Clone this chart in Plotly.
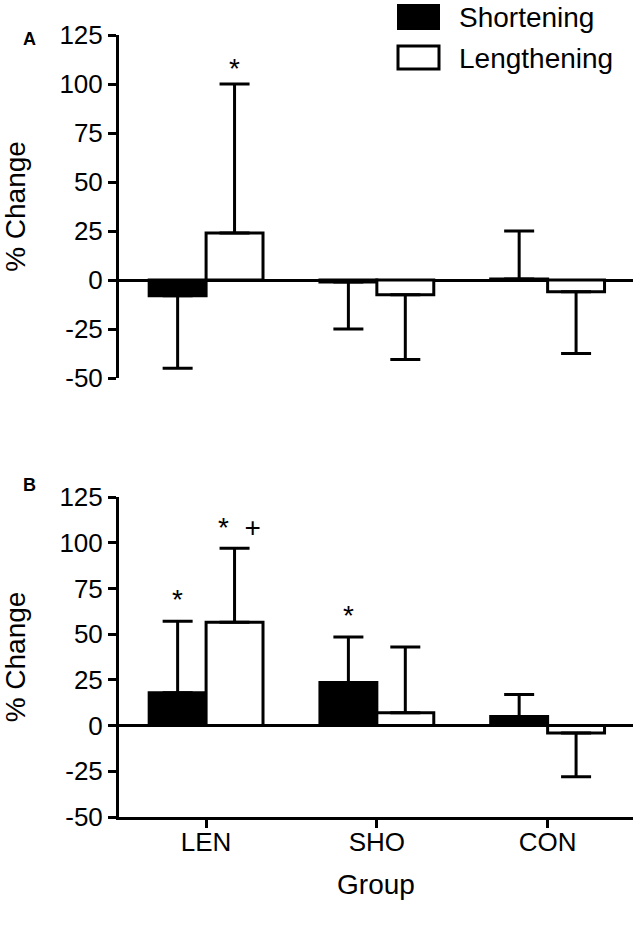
import plotly.graph_objects as go

# ---------------- data ----------------
groups = ["LEN", "SHO", "CON"]
series_names = ["Shortening", "Lengthening"]

a_short = [-8, -1, 0.5]
a_short_sd = [37, 24, 24.5]
a_len = [24, -7.5, -6]
a_len_sd = [76, 33, 31.5]

b_short = [18, 23.5, 5]
b_short_sd = [39, 25, 12]
b_len = [56.5, 7, -4]
b_len_sd = [40.5, 36, 24]

a_short_sig = ["", "", ""]
a_len_sig = ["*", "", ""]
b_short_sig = ["*", "*", ""]
b_len_sig = ["*  +", "", ""]

y_ticks = [-50, -25, 0, 25, 50, 75, 100, 125]
y_ticktext = ["-50", "-25", "0", "25", "50", "75", "100", "125"]

FONT = "Liberation Sans, Arial, sans-serif"
W, H = 638, 937


def px_x(p):
    return p / W


def px_y(p):
    return 1 - p / H


def one_sided(vals, sds):
    up = [s if v >= 0 else 0 for v, s in zip(vals, sds)]
    down = [s if v < 0 else 0 for v, s in zip(vals, sds)]
    return up, down


fig = go.Figure()


def add_bars(vals, sds, name, fill, xa, ya, show):
    up, down = one_sided(vals, sds)
    fig.add_trace(go.Bar(
        x=groups, y=vals, name=name, xaxis=xa, yaxis=ya, showlegend=show,
        marker=dict(color=fill, line=dict(color="black", width=3)),
        error_y=dict(type="data", symmetric=False, array=up, arrayminus=down,
                     color="black", thickness=3, width=15),
        offsetgroup=name,
    ))


add_bars(a_short, a_short_sd, "Shortening", "black", "x", "y", False)
add_bars(a_len, a_len_sd, "Lengthening", "white", "x", "y", False)
add_bars(b_short, b_short_sd, "Shortening", "black", "x2", "y2", False)
add_bars(b_len, b_len_sd, "Lengthening", "white", "x2", "y2", False)

annotations = []


def add_sig(vals, sds, sigs, xref, yref, shift, yshift):
    for g, v, s, t in zip(groups, vals, sds, sigs):
        if not t:
            continue
        top = v + s if v >= 0 else v
        annotations.append(dict(
            x=g, y=top, xref=xref, yref=yref, text=t, showarrow=False,
            yanchor="bottom", xanchor="center", xshift=shift, yshift=yshift,
            font=dict(family=FONT, size=28, color="black"),
        ))


# offsets of grouped bars: -1/6 for shortening, +1/6 for lengthening (in px ~28.5)
add_sig(a_short, a_short_sd, a_short_sig, "x", "y", -28.5, 0)
add_sig(a_len, a_len_sd, a_len_sig, "x", "y", 28.5, -2)
add_sig(b_short, b_short_sd, b_short_sig, "x2", "y2", -28.5, 4)
add_sig(b_len, b_len_sd, b_len_sig, "x2", "y2", 33, 3)

# panel letters
annotations.append(dict(x=px_x(21), y=px_y(27), xref="paper", yref="paper", text="<b>A</b>",
                        showarrow=False, font=dict(family=FONT, size=18, color="black")))
annotations.append(dict(x=px_x(21), y=px_y(485), xref="paper", yref="paper", text="<b>B</b>",
                        showarrow=False, font=dict(family=FONT, size=18, color="black")))

# legend (drawn manually to get the large swatches)
shapes = [
    dict(type="rect", xref="paper", yref="paper", x0=px_x(398), x1=px_x(439),
         y0=px_y(29), y1=px_y(5), fillcolor="black", line=dict(color="black", width=2)),
    dict(type="rect", xref="paper", yref="paper", x0=px_x(398), x1=px_x(439),
         y0=px_y(69), y1=px_y(46), fillcolor="white", line=dict(color="black", width=3)),
]
annotations.append(dict(x=px_x(457), y=px_y(18), xref="paper", yref="paper", text=series_names[0],
                        showarrow=False, xanchor="left", yanchor="middle",
                        font=dict(family=FONT, size=28, color="black")))
annotations.append(dict(x=px_x(457), y=px_y(58), xref="paper", yref="paper", text=series_names[1],
                        showarrow=False, xanchor="left", yanchor="middle",
                        font=dict(family=FONT, size=28, color="black")))

xdom = [px_x(119), px_x(633)]
xrange = [-0.51, 2.5]

yaxis_common = dict(
    range=[-50, 125], tickmode="array", tickvals=y_ticks, ticktext=y_ticktext,
    showline=True, linewidth=3, linecolor="black",
    ticks="outside", ticklen=8, tickwidth=3, tickcolor="black",
    zeroline=True, zerolinewidth=3, zerolinecolor="black",
    showgrid=False, tickfont=dict(family=FONT, size=26, color="black"),
    title=dict(text="% Change", font=dict(family=FONT, size=28, color="black"), standoff=26),
    automargin=False,
)

fig.update_layout(
    width=W, height=H,
    margin=dict(l=0, r=0, t=0, b=0, autoexpand=False),
    paper_bgcolor="white", plot_bgcolor="white",
    barmode="group", bargap=1/3, bargroupgap=0,
    showlegend=False,
    font=dict(family=FONT, color="black"),
    xaxis=dict(domain=xdom, anchor="y", type="category", range=xrange, automargin=False,
               showline=False, showticklabels=False, ticks="", showgrid=False, zeroline=False),
    yaxis=dict(domain=[px_y(378), px_y(35)], anchor="x", **yaxis_common),
    xaxis2=dict(domain=xdom, anchor="y2", type="category", range=xrange, automargin=False,
                showline=True, linewidth=3, linecolor="black",
                ticks="outside", ticklen=8, tickwidth=3, tickcolor="black",
                showgrid=False, zeroline=False, ticklabelstandoff=-8,
                tickfont=dict(family=FONT, size=26, color="black"),
                title=dict(text="Group", font=dict(family=FONT, size=28, color="black"), standoff=19)),
    yaxis2=dict(domain=[px_y(817), px_y(497)], anchor="x2", **yaxis_common),
    annotations=annotations,
    shapes=shapes,
)

fig.write_html("out.html", config={"displayModeBar": False},
               post_script="document.body.style.margin='0';")
